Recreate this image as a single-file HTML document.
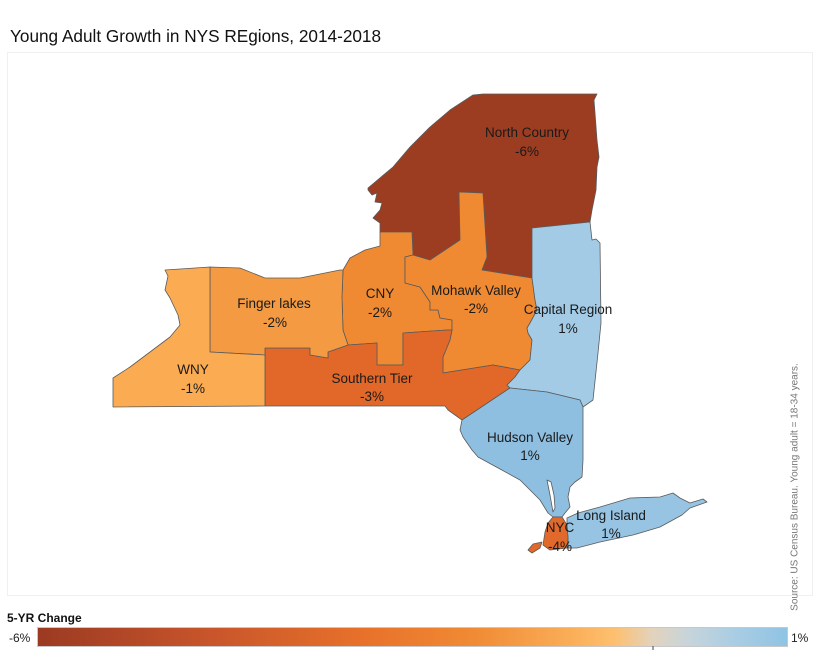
<!DOCTYPE html>
<html>
<head>
<meta charset="utf-8">
<style>
  html,body{margin:0;padding:0;background:#fff;}
  body{width:816px;height:660px;overflow:hidden;}
  svg{display:block;}
  text{font-family:"Liberation Sans", sans-serif;}
</style>
</head>
<body>
<svg width="816" height="660" viewBox="0 0 816 660" xmlns="http://www.w3.org/2000/svg">
  <defs>
    <linearGradient id="lg" x1="0" y1="0" x2="1" y2="0">
      <stop offset="0" stop-color="#9b3a22"/>
      <stop offset="0.23" stop-color="#c8552b"/>
      <stop offset="0.44" stop-color="#e8722a"/>
      <stop offset="0.58" stop-color="#f08a34"/>
      <stop offset="0.72" stop-color="#fbb05a"/>
      <stop offset="0.77" stop-color="#fdc070"/>
      <stop offset="0.82" stop-color="#e2d3bd"/>
      <stop offset="0.87" stop-color="#c6d4dc"/>
      <stop offset="0.93" stop-color="#a9cde3"/>
      <stop offset="1" stop-color="#8fc3e3"/>
    </linearGradient>
  </defs>

  <!-- Title -->
  <text x="10" y="42" font-size="17.2" fill="#111">Young Adult Growth in NYS REgions, 2014-2018</text>

  <!-- Panel -->
  <rect x="7.5" y="52.5" width="805" height="543" fill="none" stroke="#f0f0f0" stroke-width="1"/>

  <g stroke="#5a5a5a" stroke-width="0.8" stroke-linejoin="round">
    <!-- North Country -->
    <polygon fill="#9c3d22" points="483,94 597,94 594,100 595,113 597,140 599,157 597,167 596,190 592,210 590,222 532,228 532,278 507,274 482,270 487,257 483,193 459,192 460,240 430,260 413,255 412,232 393,232 380,232 380,223 373,218 380,210 382,203 375,202 377,193 372,195 368,190 368,188 393,167 410,147 430,127 450,110 473,95"/>
    <!-- CNY -->
    <polygon fill="#f08a32" points="343,270 350,258 365,250 380,246 380,232 393,232 412,232 413,255 405,257 405,283 420,287 430,302 430,310 438,310 440,318 452,320 452,330 447,330 403,333 403,365 377,365 377,343 348,345 343,330 342,297"/>
    <!-- Mohawk Valley -->
    <polygon fill="#f08a32" points="405,257 413,255 430,260 460,240 459,192 483,193 487,257 482,270 507,274 532,278 535,300 537,310 530,323 527,328 528,333 532,340 530,360 520,370 493,365 443,373 443,357 450,340 452,330 452,320 440,318 438,310 430,310 430,302 420,287 405,283"/>
    <!-- Southern Tier -->
    <polygon fill="#e2682a" points="265,348 310,348 310,355 322,357 328,358 328,352 348,345 377,343 377,365 403,365 403,333 447,330 452,330 450,340 443,357 443,373 493,365 520,370 515,377 507,385 510,388 462,420 448,410 445,406 265,406"/>
    <!-- Finger lakes -->
    <polygon fill="#f39a42" points="210,267 240,268 265,278 300,278 340,270 343,270 342,297 343,330 348,345 328,352 328,358 322,357 310,355 310,348 265,348 265,355 210,352"/>
    <!-- WNY -->
    <polygon fill="#fbab52" points="165,270 210,267 210,352 265,355 265,406 113,407 113,378 130,367 150,352 170,337 180,325 178,315 170,298 165,290 168,276"/>
    <!-- Capital Region -->
    <polygon fill="#a3cbe5" points="532,228 590,222 592,240 596,239 600,243 601,323 598,353 593,400 583,407 580,400 547,392 510,388 507,385 515,377 520,370 530,360 532,340 528,333 527,328 530,323 537,310 535,300 532,278"/>
    <!-- Hudson Valley -->
    <polygon fill="#8ebfe1" points="462,420 510,388 547,392 580,400 583,407 583,460 582,477 575,482 570,487 568,497 570,507 565,513 562,517 553,517 548,513 540,500 520,480 500,469 478,457 472,450 463,437 460,430"/>
    <!-- Hudson river sliver -->
    <polygon fill="#ffffff" points="547,480 551,482 554,495 555,508 553,512 550,495"/>
    <!-- Long Island -->
    <polygon fill="#97c4e3" points="567,518 578,513 600,507 630,498 660,497 673,493 680,498 690,503 703,499 707,502 690,508 682,515 660,527 633,535 600,542 577,548 568,548 568,538 567,525"/>
    <!-- NYC -->
    <polygon fill="#e0692b" points="553,517 562,517 567,525 568,538 567,548 550,550 543,545 545,532 548,523"/>
    <polygon fill="#e0692b" points="528,550 533,544 542,542 540,548 532,553"/>
  </g>

  <!-- Labels -->
  <g font-size="13.5" fill="#1a1a1a" text-anchor="middle">
    <text x="527" y="137">North Country</text>
    <text x="527" y="156">-6%</text>
    <text x="274" y="308">Finger lakes</text>
    <text x="275" y="327">-2%</text>
    <text x="380" y="298">CNY</text>
    <text x="380" y="317">-2%</text>
    <text x="476" y="295">Mohawk Valley</text>
    <text x="476" y="313">-2%</text>
    <text x="568" y="314">Capital Region</text>
    <text x="568" y="333">1%</text>
    <text x="193" y="374">WNY</text>
    <text x="193" y="393">-1%</text>
    <text x="372" y="383">Southern Tier</text>
    <text x="372" y="401">-3%</text>
    <text x="530" y="442">Hudson Valley</text>
    <text x="530" y="460">1%</text>
    <text x="611" y="520">Long Island</text>
    <text x="611" y="538">1%</text>
    <text x="560" y="532">NYC</text>
    <text x="560" y="551">-4%</text>
  </g>

  <!-- Source (vertical) -->
  <text x="795" y="487" font-size="10" fill="#777" text-anchor="middle" dominant-baseline="central" transform="rotate(-90 795 487)">Source: US Census Bureau. Young adult = 18-34 years.</text>

  <!-- Legend -->
  <text x="7" y="622" font-size="12" font-weight="bold" fill="#111">5-YR Change</text>
  <text x="9" y="642" font-size="12" fill="#222">-6%</text>
  <rect x="37.5" y="627.5" width="750" height="19" fill="url(#lg)" stroke="#c8c8c8" stroke-width="1"/>
  <line x1="653" y1="646" x2="653" y2="650" stroke="#444" stroke-width="1"/>
  <text x="791" y="642" font-size="12" fill="#222">1%</text>
</svg>
</body>
</html>
